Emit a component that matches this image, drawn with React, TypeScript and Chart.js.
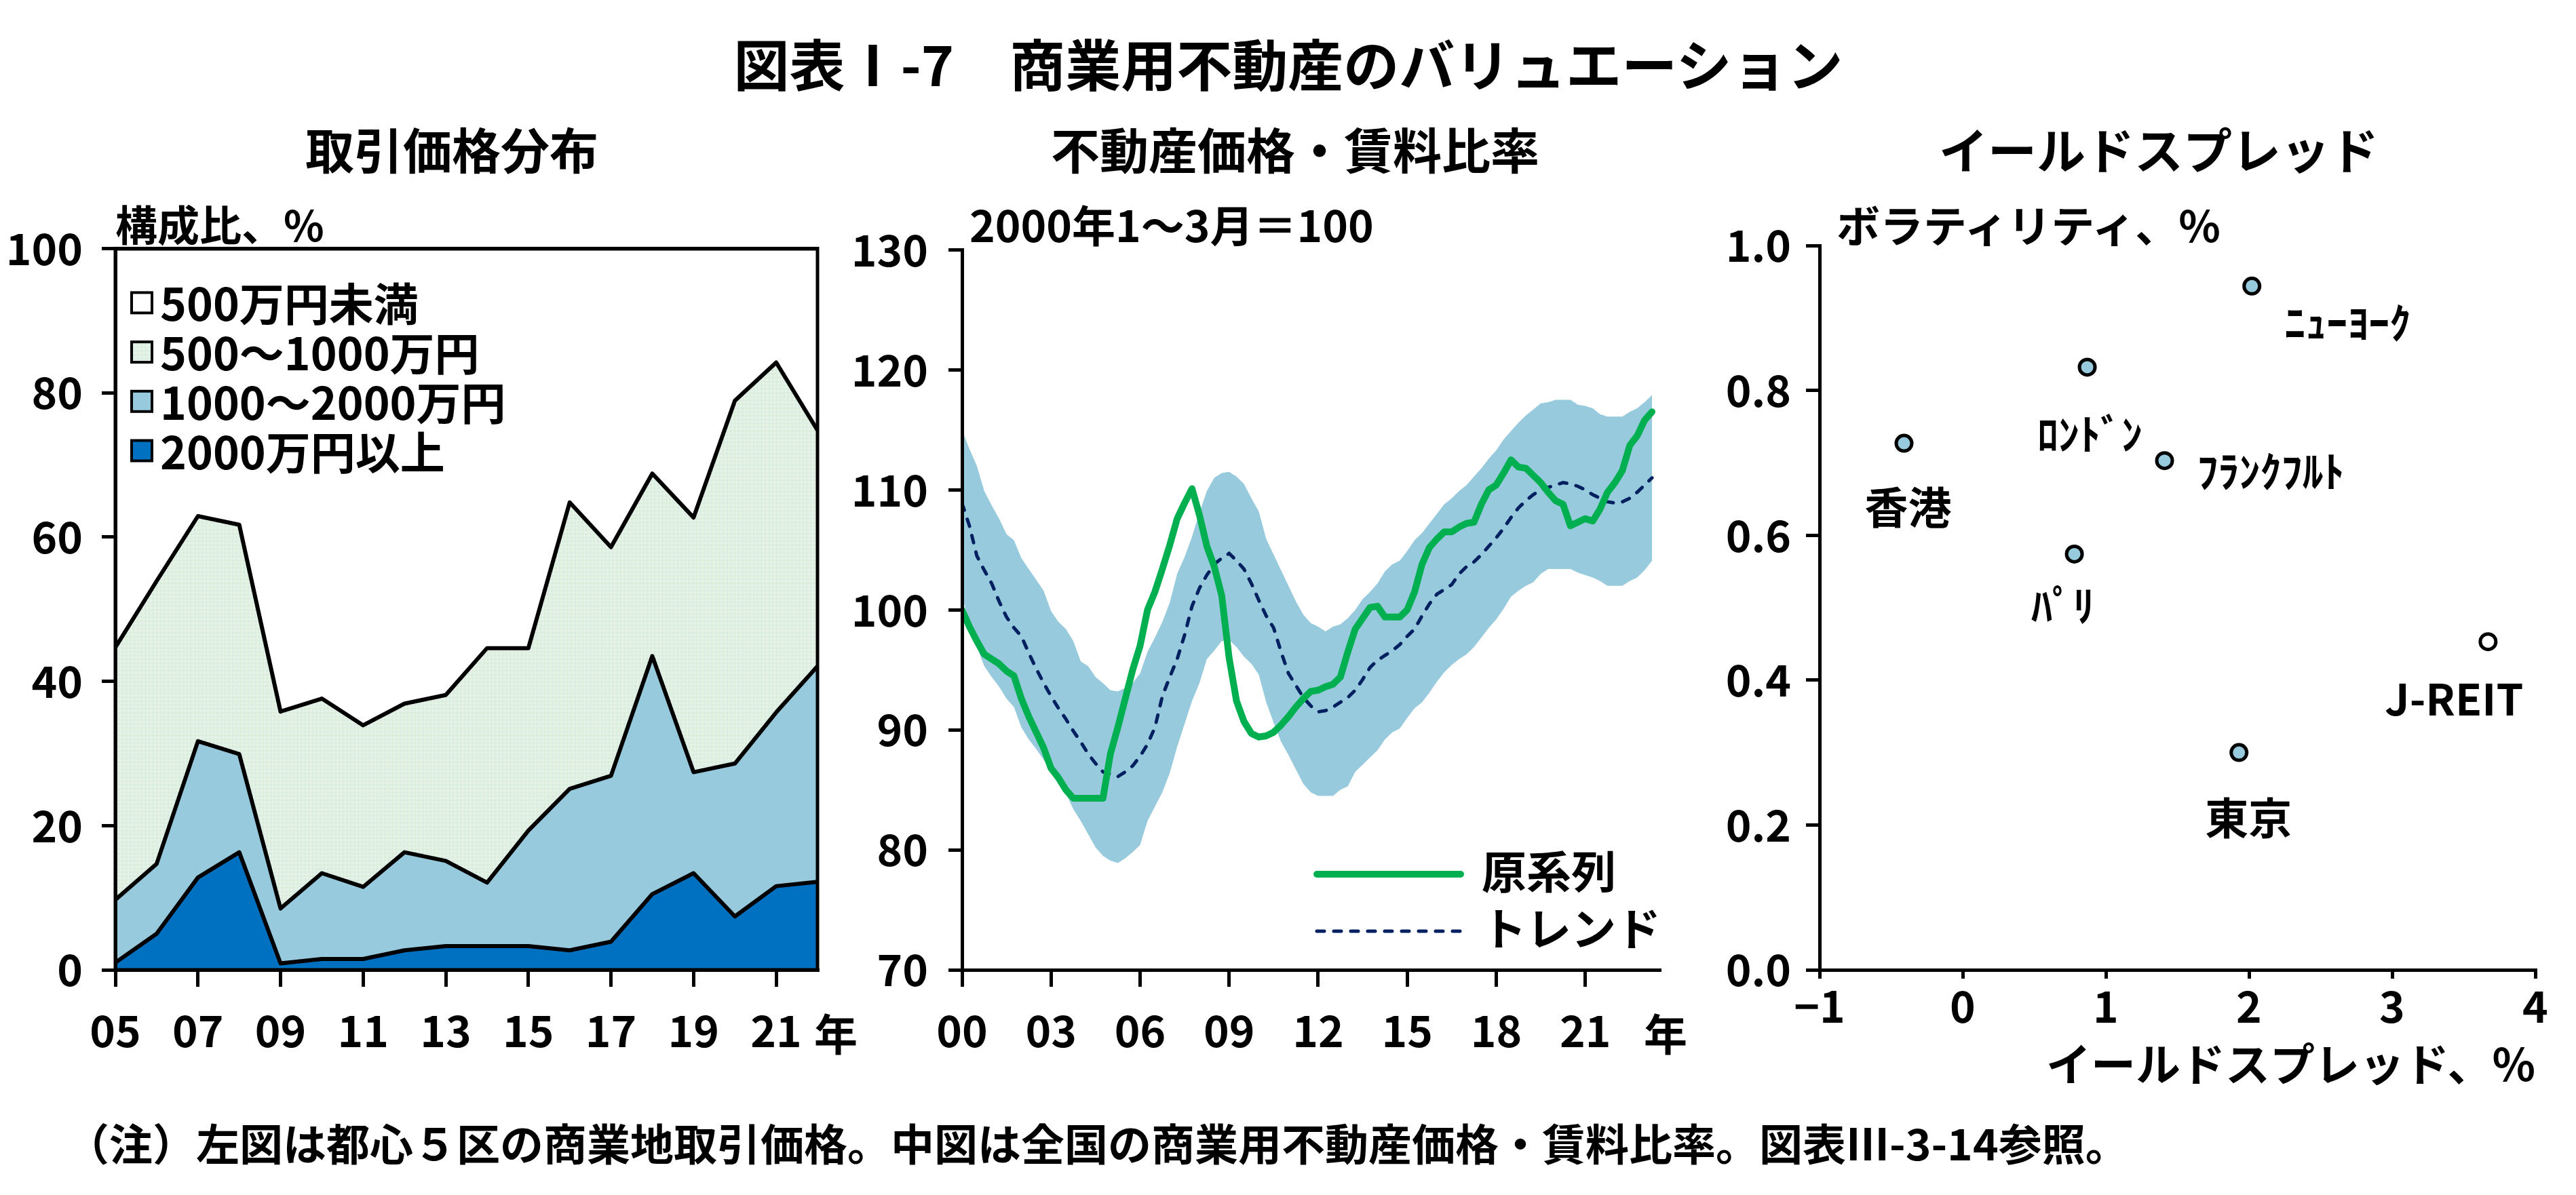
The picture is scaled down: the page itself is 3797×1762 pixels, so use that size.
import React, { useEffect, useRef } from 'react';
import { Chart, registerables } from 'chart.js';

Chart.register(...registerables);

const FONT = '"Noto Sans CJK JP", "Noto Sans", sans-serif';
const WEIGHT = 'bold';
Chart.defaults.font.family = FONT;
Chart.defaults.font.weight = WEIGHT as any;
Chart.defaults.color = '#000';

// ---------- Left panel: 取引価格分布 ----------
const years = [2005, 2006, 2007, 2008, 2009, 2010, 2011, 2012, 2013, 2014, 2015, 2016, 2017, 2018, 2019, 2020, 2021, 2022];
const leftTickYears = [2005, 2007, 2009, 2011, 2013, 2015, 2017, 2019, 2021];
const leftTickLabels = ['05', '07', '09', '11', '13', '15', '17', '19', '21'];
const share2000plus = [1.0, 5.0, 12.8, 16.3, 0.9, 1.5, 1.5, 2.7, 3.3, 3.3, 3.3, 2.7, 3.9, 10.5, 13.4, 7.4, 11.6, 12.2];
const share1000to2000 = [8.7, 9.7, 18.9, 13.6, 7.6, 11.9, 10.0, 13.6, 11.8, 8.8, 16.0, 22.4, 23.0, 33.0, 14.0, 21.2, 24.1, 29.9];
const share500to1000 = [35.0, 39.2, 31.2, 31.8, 27.3, 24.2, 22.4, 20.6, 23.0, 32.5, 25.3, 39.7, 31.7, 25.3, 35.3, 50.3, 48.5, 32.7];
const shareUnder500 = [55.3, 46.1, 37.1, 38.3, 64.2, 62.4, 66.1, 63.1, 61.9, 55.4, 55.4, 35.2, 41.4, 31.2, 37.3, 21.1, 15.8, 25.2];
const shareNames = ['2000万円以上', '1000～2000万円', '500～1000万円', '500万円未満'];

// ---------- Middle panel: 不動産価格・賃料比率 (quarterly, 2000Q1 = index 0) ----------
const ratioOriginal = [
  100.0, 98.6, 97.4, 96.3, 95.9, 95.5, 94.9, 94.5, 92.6, 91.1,
  89.8, 88.5, 86.8, 86.0, 85.0, 84.3, 84.3, 84.3, 84.3, 84.3,
  88.0, 90.2, 92.6, 95.0, 97.0, 100.0, 101.5, 103.4, 105.4, 107.6,
  108.9, 110.1, 107.9, 105.3, 103.6, 101.2, 96.0, 92.4, 90.7, 89.7,
  89.4, 89.5, 89.8, 90.4, 91.1, 91.9, 92.6, 93.2, 93.3, 93.6,
  93.8, 94.4, 96.5, 98.4, 99.3, 100.2, 100.3, 99.4, 99.4, 99.4,
  100.0, 101.5, 103.8, 105.2, 105.9, 106.5, 106.5, 106.9, 107.2, 107.3,
  108.8, 110.0, 110.4, 111.4, 112.5, 111.9, 111.8, 111.2, 110.6, 109.8,
  109.1, 108.8, 107.0, 107.3, 107.6, 107.4, 108.4, 109.8, 110.6, 111.6,
  113.7, 114.5, 115.8, 116.5,
];
const ratioTrend = [
  108.9, 107.0, 104.5, 103.3, 102.2, 100.7, 99.4, 98.5, 97.8, 96.4,
  95.1, 93.9, 92.8, 91.8, 90.9, 89.9, 89.0, 88.0, 87.2, 86.5,
  86.3, 86.1, 86.5, 87.0, 87.8, 88.8, 90.2, 92.8, 94.4, 95.9,
  97.9, 100.3, 101.8, 102.9, 103.8, 104.3, 104.7, 104.1, 103.4, 102.2,
  100.8, 99.5, 98.5, 96.5, 94.7, 93.7, 92.7, 92.0, 91.5, 91.6,
  91.9, 92.3, 92.7, 93.3, 94.2, 95.2, 95.8, 96.2, 96.6, 97.1,
  97.8, 98.4, 99.5, 100.5, 101.3, 101.7, 102.1, 103.0, 103.6, 104.0,
  104.6, 105.3, 106.0, 106.8, 107.7, 108.5, 109.1, 109.6, 110.0, 110.2,
  110.4, 110.6, 110.5, 110.3, 110.0, 109.6, 109.3, 109.0, 108.9, 109.0,
  109.3, 109.8, 110.4, 111.0,
];
const bandUpper = [
  115.0, 113.4, 112.0, 109.9, 108.7, 107.6, 106.3, 105.8, 104.3, 103.4,
  102.5, 101.6, 99.9, 99.0, 98.4, 97.4, 95.7, 95.3, 94.4, 93.9,
  93.3, 93.2, 93.5, 93.9, 94.7, 96.5, 97.7, 99.0, 100.6, 103.0,
  104.4, 106.1, 108.1, 109.9, 111.0, 111.4, 111.5, 111.1, 110.5, 109.3,
  108.2, 105.9, 104.6, 103.3, 102.0, 100.7, 99.6, 98.9, 98.6, 98.2,
  98.6, 98.8, 99.3, 100.0, 100.9, 101.5, 102.2, 103.2, 103.8, 104.1,
  104.9, 105.8, 106.4, 107.2, 108.0, 108.8, 109.3, 109.9, 110.4, 111.1,
  111.8, 112.6, 113.3, 114.2, 114.9, 115.6, 116.2, 116.7, 117.2, 117.3,
  117.5, 117.5, 117.5, 117.1, 117.0, 116.8, 116.3, 116.1, 116.1, 116.1,
  116.5, 116.8, 117.3, 117.9,
];
const bandLower = [
  101.1, 99.0, 96.9, 95.3, 94.4, 93.6, 92.6, 91.9, 90.2, 89.2,
  88.4, 87.5, 86.6, 85.6, 84.7, 83.4, 82.4, 81.3, 80.2, 79.5,
  79.1, 78.9, 79.3, 79.8, 80.4, 82.4, 83.6, 84.8, 86.4, 88.6,
  90.5, 92.4, 93.9, 95.9, 96.6, 97.4, 97.5, 96.9, 96.1, 95.5,
  94.6, 92.3, 90.6, 89.0, 87.9, 86.7, 85.5, 84.8, 84.5, 84.5,
  84.5, 85.0, 85.3, 86.5, 87.1, 87.7, 88.3, 89.2, 89.8, 90.1,
  91.0, 91.8, 92.3, 93.1, 94.0, 94.8, 95.4, 95.9, 96.3, 96.9,
  97.7, 98.5, 99.2, 100.1, 101.1, 101.6, 102.0, 102.3, 103.0, 103.4,
  103.4, 103.4, 103.4, 103.1, 102.9, 102.7, 102.4, 102.0, 102.0, 102.0,
  102.4, 102.7, 103.3, 104.1,
];
const midTickQuarters = [0, 12, 24, 36, 48, 60, 72, 84];
const midTickLabels = ['00', '03', '06', '09', '12', '15', '18', '21'];

// ---------- Right panel: イールドスプレッド ----------
const cityNames = ['ﾆｭｰﾖｰｸ', 'ﾛﾝﾄﾞﾝ', '香港', 'ﾌﾗﾝｸﾌﾙﾄ', 'ﾊﾟﾘ', 'J-REIT', '東京'];
const yieldSpread = [2.02, 0.87, -0.41, 1.41, 0.78, 3.67, 1.93];
const volatility = [0.944, 0.832, 0.727, 0.703, 0.574, 0.453, 0.300];

const BLUE_LIGHT = '#96cadc';
const BLUE_DARK = '#0070c0';

const axisBorder = { color: '#000', width: 5, z: 1 };

function makeGrid(tickLength: number) {
  return { drawOnChartArea: false, tickLength, lineWidth: 5, color: '#000', z: 1 };
}

function LeftChart() {
  const ref = useRef<HTMLCanvasElement>(null);
  useEffect(() => {
    const canvas = ref.current!;
    const ctx = canvas.getContext('2d')!;
    const pc = document.createElement('canvas');
    pc.width = 2;
    pc.height = 2;
    const pctx = pc.getContext('2d')!;
    pctx.fillStyle = '#ffffff';
    pctx.fillRect(0, 0, 2, 2);
    pctx.fillStyle = '#8fcf9e';
    pctx.fillRect(0, 0, 1, 1);
    const pattern = ctx.createPattern(pc, 'repeat')!;

    const fills = [BLUE_DARK, BLUE_LIGHT, pattern, '#ffffff'];
    const series = [share2000plus, share1000to2000, share500to1000, shareUnder500];

    const framePlugin = {
      id: 'frame',
      afterDatasetsDraw(chart: any) {
        const { ctx: c, chartArea: a } = chart;
        c.save();
        c.strokeStyle = '#000';
        c.lineWidth = 5;
        c.strokeRect(a.left, a.top, a.right - a.left, a.bottom - a.top);
        c.restore();
      },
    };
    const legendPlugin = {
      id: 'leftLegend',
      afterDraw(chart: any) {
        const { ctx: c, chartArea: a } = chart;
        c.save();
        c.font = `${WEIGHT} 66px ${FONT}`;
        c.textBaseline = 'middle';
        [3, 2, 1, 0].forEach((di, r) => {
          const ds = chart.data.datasets[di];
          const cy = a.top + 80 + r * 72.7;
          const bx = a.left + 24;
          c.fillStyle = ds.backgroundColor;
          c.fillRect(bx, cy - 15, 30, 30);
          c.lineWidth = 4;
          c.strokeStyle = '#000';
          c.strokeRect(bx, cy - 15, 30, 30);
          c.fillStyle = '#000';
          c.fillText(ds.label, a.left + 66, cy + 2);
        });
        c.restore();
      },
    };

    const chart = new Chart(canvas, {
      type: 'line',
      data: {
        datasets: series.map((vals, i) => ({
          label: shareNames[i],
          data: vals.map((v, j) => ({ x: years[j], y: v })),
          backgroundColor: fills[i] as any,
          borderColor: '#000',
          borderWidth: 6,
          pointRadius: 0,
          fill: i === 0 ? 'origin' : '-1',
          tension: 0,
          borderJoinStyle: 'round' as const,
        })),
      },
      options: {
        animation: false,
        responsive: false,
        events: [],
        layout: { padding: { top: 63, right: 115, left: 0, bottom: 0 } },
        plugins: { legend: { display: false }, tooltip: { enabled: false } },
        scales: {
          x: {
            type: 'linear',
            min: 2005,
            max: 2022,
            afterBuildTicks: (s: any) => {
              s.ticks = leftTickYears.map((v) => ({ value: v }));
            },
            afterFit: (s: any) => {
              s.height = 190;
            },
            ticks: {
              autoSkip: false,
              maxRotation: 0,
              padding: 26,
              font: { size: 64, weight: WEIGHT },
              color: '#000',
              callback: (_v: any, i: number) => leftTickLabels[i],
            },
            grid: makeGrid(25),
            border: axisBorder,
          },
          y: {
            stacked: true,
            min: 0,
            max: 100,
            afterFit: (s: any) => {
              s.width = 170;
            },
            ticks: { stepSize: 20, padding: 28, font: { size: 64, weight: WEIGHT }, color: '#000' },
            grid: makeGrid(20),
            border: axisBorder,
          },
        },
      },
      plugins: [framePlugin, legendPlugin],
    } as any);
    return () => chart.destroy();
  }, []);
  return <canvas ref={ref} width={1320} height={1320} style={{ position: 'absolute', left: 0, top: 300 }} />;
}

function MiddleChart() {
  const ref = useRef<HTMLCanvasElement>(null);
  useEffect(() => {
    const canvas = ref.current!;
    const toPts = (arr: number[]) => arr.map((v, i) => ({ x: i, y: v }));
    const legendPlugin = {
      id: 'midLegend',
      afterDraw(chart: any) {
        const { ctx: c, chartArea: a } = chart;
        [0, 1].forEach((di, r) => {
          const ds = chart.data.datasets[di];
          const y = a.bottom - 141 + r * 84;
          c.save();
          c.strokeStyle = ds.borderColor;
          c.lineWidth = ds.borderWidth;
          c.lineCap = 'round';
          c.setLineDash(ds.borderDash || []);
          c.beginPath();
          c.moveTo(a.right - 505, y);
          c.lineTo(a.right - 293, y);
          c.stroke();
          c.setLineDash([]);
          c.fillStyle = '#000';
          c.font = `${WEIGHT} 66px ${FONT}`;
          c.textBaseline = 'middle';
          c.fillText(ds.label, a.right - 262, y - 4);
          c.restore();
        });
      },
    };
    const chart = new Chart(canvas, {
      type: 'line',
      data: {
        datasets: [
          {
            label: '原系列',
            data: toPts(ratioOriginal),
            borderColor: '#00b050',
            borderWidth: 10,
            pointRadius: 0,
            fill: false,
            order: 0,
            borderCapStyle: 'round',
            borderJoinStyle: 'round',
          },
          {
            label: 'トレンド',
            data: toPts(ratioTrend),
            borderColor: '#002060',
            borderWidth: 5,
            borderDash: [11, 14],
            borderCapStyle: 'round',
            pointRadius: 0,
            fill: false,
            order: 1,
          },
          {
            label: 'band-upper',
            data: toPts(bandUpper),
            borderColor: 'rgba(0,0,0,0)',
            borderWidth: 0,
            backgroundColor: BLUE_LIGHT,
            pointRadius: 0,
            fill: '+1',
            order: 2,
          },
          {
            label: 'band-lower',
            data: toPts(bandLower),
            borderColor: 'rgba(0,0,0,0)',
            borderWidth: 0,
            pointRadius: 0,
            fill: false,
            order: 3,
          },
        ],
      },
      options: {
        animation: false,
        responsive: false,
        events: [],
        layout: { padding: { top: 63, right: 64, left: 0, bottom: 0 } },
        plugins: { legend: { display: false }, tooltip: { enabled: false } },
        scales: {
          x: {
            type: 'linear',
            min: 0,
            max: 94,
            afterBuildTicks: (s: any) => {
              s.ticks = midTickQuarters.map((v) => ({ value: v }));
            },
            afterFit: (s: any) => {
              s.height = 190;
            },
            ticks: {
              autoSkip: false,
              maxRotation: 0,
              padding: 26,
              font: { size: 64, weight: WEIGHT },
              color: '#000',
              callback: (_v: any, i: number) => midTickLabels[i],
            },
            grid: makeGrid(25),
            border: axisBorder,
          },
          y: {
            min: 70,
            max: 130,
            afterFit: (s: any) => {
              s.width = 168;
            },
            ticks: { stepSize: 10, padding: 30, font: { size: 64, weight: WEIGHT }, color: '#000' },
            grid: makeGrid(20),
            border: axisBorder,
          },
        },
      },
      plugins: [legendPlugin],
    } as any);
    return () => chart.destroy();
  }, []);
  return <canvas ref={ref} width={1260} height={1320} style={{ position: 'absolute', left: 1250, top: 300 }} />;
}

const labelPlacement: Record<string, { dx: number; dy: number; align: CanvasTextAlign; size: number }> = {
  'ﾆｭｰﾖｰｸ': { dx: 48, dy: 55, align: 'left', size: 62 },
  'ﾛﾝﾄﾞﾝ': { dx: 4, dy: 99, align: 'center', size: 62 },
  '香港': { dx: 6, dy: 94, align: 'center', size: 64 },
  'ﾌﾗﾝｸﾌﾙﾄ': { dx: 48, dy: 16, align: 'left', size: 62 },
  'ﾊﾟﾘ': { dx: -17, dy: 76, align: 'center', size: 62 },
  'J-REIT': { dx: -50, dy: 84, align: 'center', size: 64 },
  '東京': { dx: 14, dy: 96, align: 'center', size: 64 },
};

function RightChart() {
  const ref = useRef<HTMLCanvasElement>(null);
  useEffect(() => {
    const canvas = ref.current!;
    const labelPlugin = {
      id: 'cityLabels',
      afterDatasetsDraw(chart: any) {
        const { ctx: c } = chart;
        const meta = chart.getDatasetMeta(0);
        c.save();
        c.fillStyle = '#000';
        c.textBaseline = 'middle';
        meta.data.forEach((el: any, i: number) => {
          const name = cityNames[i];
          const p = labelPlacement[name];
          c.font = `${WEIGHT} ${p.size}px ${FONT}`;
          c.textAlign = p.align;
          c.fillText(name, el.x + p.dx, el.y + p.dy);
        });
        c.restore();
      },
    };
    const chart = new Chart(canvas, {
      type: 'scatter',
      data: {
        datasets: [
          {
            label: 'yield',
            data: yieldSpread.map((x, i) => ({ x, y: volatility[i] })),
            pointRadius: 11.5,
            pointBorderWidth: 5,
            pointBorderColor: '#000',
            pointBackgroundColor: (ctx: any) => (cityNames[ctx.dataIndex] === 'J-REIT' ? '#ffffff' : BLUE_LIGHT),
          },
        ],
      },
      options: {
        animation: false,
        responsive: false,
        events: [],
        layout: { padding: { top: 62, right: 60, left: 0, bottom: 0 } },
        plugins: { legend: { display: false }, tooltip: { enabled: false } },
        scales: {
          x: {
            type: 'linear',
            min: -1,
            max: 4,
            afterFit: (s: any) => {
              s.height = 190;
            },
            ticks: {
              stepSize: 1,
              padding: 2,
              font: { size: 64, weight: WEIGHT },
              color: '#000',
              callback: (v: any) => (v < 0 ? '−' + Math.abs(v) : String(v)),
            },
            grid: makeGrid(13),
            border: axisBorder,
            title: {
              display: true,
              text: 'イールドスプレッド、%',
              align: 'end',
              font: { size: 66, weight: WEIGHT },
              color: '#000',
              padding: { top: 0, bottom: 11 },
            },
          },
          y: {
            min: 0,
            max: 1,
            afterFit: (s: any) => {
              s.width = 182;
            },
            ticks: {
              stepSize: 0.2,
              padding: 22,
              font: { size: 64, weight: WEIGHT },
              color: '#000',
              callback: (v: any) => Number(v).toFixed(1),
            },
            grid: makeGrid(20),
            border: axisBorder,
          },
        },
      },
      plugins: [labelPlugin],
    } as any);
    return () => chart.destroy();
  }, []);
  return <canvas ref={ref} width={1297} height={1320} style={{ position: 'absolute', left: 2500, top: 300 }} />;
}

function Txt(props: { x: number; y: number; size: number; text: string; anchor?: 'center' | 'left' }) {
  const { x, y, size, text, anchor = 'center' } = props;
  return (
    <div
      style={{
        position: 'absolute',
        left: x,
        top: y,
        transform: anchor === 'center' ? 'translate(-50%, -50%)' : 'translate(0, -50%)',
        fontSize: size,
        fontWeight: WEIGHT,
        lineHeight: 1,
        whiteSpace: 'nowrap',
        fontFamily: FONT,
        color: '#000',
      }}
    >
      {text}
    </div>
  );
}

export default function App() {
  return (
    <div style={{ position: 'absolute', left: 0, top: 0, width: 3797, height: 1762, background: '#fff', overflow: 'hidden' }}>
      <Txt x={1899} y={92} size={82} text="図表Ⅰ-7　商業用不動産のバリュエーション" />
      <Txt x={666} y={218} size={72} text="取引価格分布" />
      <Txt x={1909} y={218} size={72} text="不動産価格・賃料比率" />
      <Txt x={3182} y={218} size={72} text="イールドスプレッド" />
      <Txt x={170} y={329} size={62} text="構成比、%" anchor="left" />
      <Txt x={1429} y={329} size={64} text="2000年1～3月＝100" anchor="left" />
      <Txt x={2707} y={329} size={64} text="ボラティリティ、%" anchor="left" />
      <LeftChart />
      <MiddleChart />
      <RightChart />
      <Txt x={1232} y={1521} size={64} text="年" />
      <Txt x={2455} y={1521} size={64} text="年" />
      <Txt x={97} y={1683} size={64} text="（注）左図は都心５区の商業地取引価格。中図は全国の商業用不動産価格・賃料比率。図表Ⅲ-3-14参照。" anchor="left" />
    </div>
  );
}
